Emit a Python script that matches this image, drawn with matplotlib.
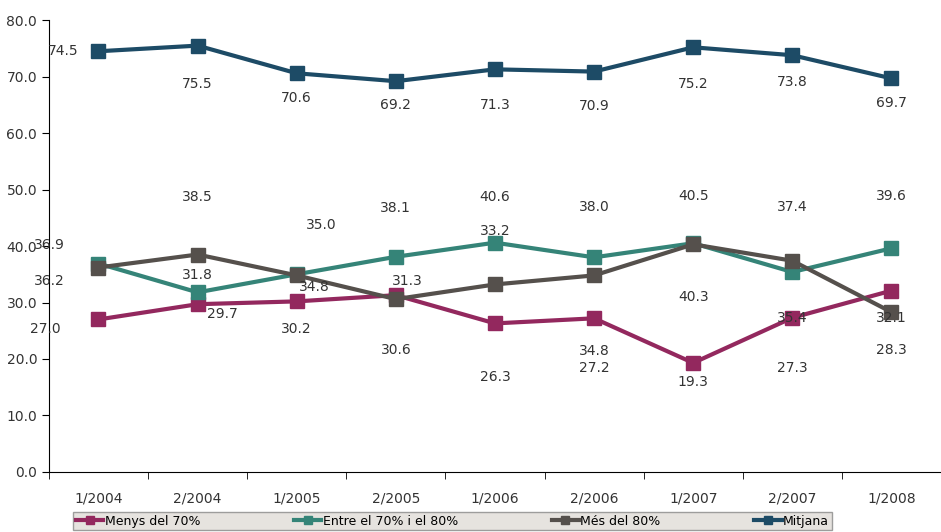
import matplotlib
matplotlib.use("Agg")
import matplotlib.pyplot as plt

periods = ["1/2004", "2/2004", "1/2005", "2/2005", "1/2006", "2/2006", "1/2007", "2/2007", "1/2008"]
menys = [27.0, 29.7, 30.2, 31.3, 26.3, 27.2, 19.3, 27.3, 32.1]
entre = [36.9, 31.8, 35.0, 38.1, 40.6, 38.0, 40.5, 35.4, 39.6]
mes = [36.2, 38.5, 34.8, 30.6, 33.2, 34.8, 40.3, 37.4, 28.3]
mitjana = [74.5, 75.5, 70.6, 69.2, 71.3, 70.9, 75.2, 73.8, 69.7]

# label offsets in pixels (dx, dy), positive dy = up
off_menys = [(-53, -10), (25, -10), (0, -28), (11, 14), (0, -54), (0, -50), (0, -19), (0, -50), (0, -27)]
off_entre = [(-49, 19), (0, 17), (25, 49), (0, 49), (0, 46), (0, 50), (0, 47), (0, -46), (0, 52)]
off_mes = [(-49, -13), (0, 58), (18, -12), (0, -51), (0, 53), (0, -76), (0, -53), (0, 54), (0, -38)]
off_mit = [(-35, 0), (0, -38), (0, -25), (0, -24), (0, -36), (0, -34), (0, -37), (0, -27), (0, -25)]

series = [
    ("Menys del 70%", menys, "#93285e", off_menys),
    ("Entre el 70% i el 80%", entre, "#358478", off_entre),
    ("Més del 80%", mes, "#55504c", off_mes),
    ("Mitjana", mitjana, "#1d4b66", off_mit),
]

fig = plt.figure(figsize=(9.41, 5.32), dpi=100)
ax = fig.add_axes([0.052, 0.113, 0.948, 0.849])
x = list(range(len(periods)))
for name, vals, col, offs in series:
    ax.plot(x, vals, color=col, lw=3, marker="s", ms=10, label=name)
    for xi, v, (dx, dy) in zip(x, vals, offs):
        ax.annotate(f"{v:.1f}", (xi, v), xytext=(dx, dy), textcoords="offset pixels",
                    ha="center", va="center", fontsize=10, color="#333333")

ax.set_xlim(-0.5, 8.5)
ax.set_ylim(0, 80)
ax.set_yticks(range(0, 81, 10))
ax.set_yticklabels([f"{v:.1f}" for v in range(0, 81, 10)], fontsize=10, color="#333333")
ax.set_xticks(x)
ax.set_xticklabels(periods, fontsize=10, color="#333333")
ax.set_xticks([i + 0.5 for i in range(-1, 9)], minor=True)
ax.tick_params(axis="x", which="major", length=0, pad=14)
ax.tick_params(axis="x", which="minor", length=5)
ax.tick_params(axis="y", length=5)
for s in ["top", "right"]:
    ax.spines[s].set_visible(False)

leg = fig.legend(loc="center", bbox_to_anchor=(0.481, 0.02), ncol=4, frameon=True,
                 fontsize=9, handlelength=2.2, handletextpad=0.1, columnspacing=7.5,
                 borderpad=0.2, borderaxespad=0, markerscale=0.6, fancybox=False)
leg.get_frame().set_facecolor("#e0dcd8")
leg.get_frame().set_edgecolor("#888888")

fig.savefig("out.png", dpi=100)
